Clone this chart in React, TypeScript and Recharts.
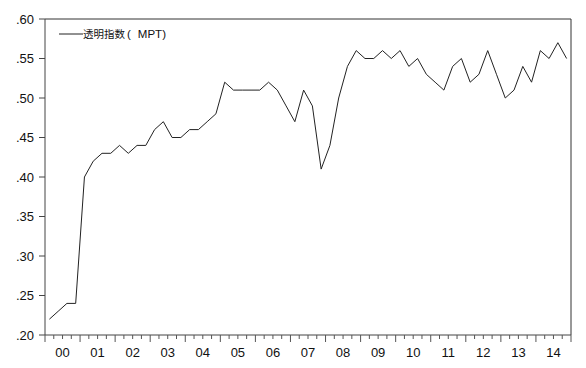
import React from "react";
import { LineChart, Line, XAxis, YAxis, Legend, ReferenceLine } from "recharts";

// quarterly values, 2000Q1 .. 2014Q4
const mptValues = [
  0.22, 0.23, 0.24, 0.24,
  0.40, 0.42, 0.43, 0.43,
  0.44, 0.43, 0.44, 0.44,
  0.46, 0.47, 0.45, 0.45,
  0.46, 0.46, 0.47, 0.48,
  0.52, 0.51, 0.51, 0.51,
  0.51, 0.52, 0.51, 0.49,
  0.47, 0.51, 0.49, 0.41,
  0.44, 0.50, 0.54, 0.56,
  0.55, 0.55, 0.56, 0.55,
  0.56, 0.54, 0.55, 0.53,
  0.52, 0.51, 0.54, 0.55,
  0.52, 0.53, 0.56, 0.53,
  0.50, 0.51, 0.54, 0.52,
  0.56, 0.55, 0.57, 0.55,
];
const yearLabels = ["00", "01", "02", "03", "04", "05", "06", "07", "08", "09", "10", "11", "12", "13", "14"];
const yTicks = [0.2, 0.25, 0.3, 0.35, 0.4, 0.45, 0.5, 0.55, 0.6];
const seriesName = "透明指数";
const seriesCode = "MPT";

const data = mptValues.map((v, i) => ({ t: i + 0.5, mpt: v }));
const quarterTicks = Array.from({ length: yearLabels.length * 4 + 1 }, (_, i) => i);

const FONT = "'Liberation Sans', Arial, 'Noto Sans CJK SC', sans-serif";

const QuarterTick = (props: any) => {
  const { x, y, payload } = props;
  const v = payload.value as number;
  const len = v % 4 === 0 ? 7 : 4;
  const yearIdx = (v - 2) / 4;
  return (
    <g>
      <line x1={x} y1={y} x2={x} y2={y + len} stroke="#555" strokeWidth={1} />
      {v % 4 === 2 && (
        <text x={x} y={y + 22} textAnchor="middle" fontSize={13} fill="#111" fontFamily={FONT}>
          {yearLabels[yearIdx]}
        </text>
      )}
    </g>
  );
};

const renderLegend = () => (
  <div style={{ display: "flex", alignItems: "center", fontFamily: FONT, fontSize: 11.5, color: "#111", whiteSpace: "nowrap" }}>
    <svg width={24} height={10}>
      <line x1={0} y1={5} x2={24} y2={5} stroke="#222" strokeWidth={1} />
    </svg>
    <span style={{ fontSize: 10.5 }}>{seriesName}</span>
    <span style={{ marginLeft: 2 }}>(</span>
    <span style={{ marginLeft: 7 }}>{seriesCode})</span>
  </div>
);

export default function App(): JSX.Element {
  return (
    <div style={{ position: "absolute", left: 0, top: 0, background: "#fff" }}>
      <LineChart
        width={586}
        height={368}
        data={data}
        margin={{ top: 19, right: 15, left: 0, bottom: 0 }}
      >
        <XAxis
          dataKey="t"
          type="number"
          domain={[0, 60]}
          ticks={quarterTicks}
          interval={0}
          height={33}
          tickSize={0}
          tickMargin={0}
          tickLine={false}
          tick={<QuarterTick />}
          stroke="#444"
        />
        <YAxis
          domain={[0.2, 0.6]}
          ticks={yTicks}
          interval={0}
          width={45}
          tickSize={6}
          tickMargin={5}
          tickFormatter={(v: number) => v.toFixed(2).replace(/^0/, "")}
          tick={{ fontSize: 13, fill: "#111", fontFamily: FONT }}
          stroke="#444"
        />
        <ReferenceLine y={0.6} stroke="#333" strokeWidth={1} />
        <ReferenceLine x={60} stroke="#333" strokeWidth={1} />
        <Legend
          layout="horizontal"
          verticalAlign="middle"
          align="center"
          content={renderLegend}
          wrapperStyle={{ left: 59, top: 26, width: "auto" }}
        />
        <Line
          type="linear"
          dataKey="mpt"
          name={`${seriesName}( ${seriesCode})`}
          stroke="#222"
          strokeWidth={1}
          dot={false}
          isAnimationActive={false}
        />
      </LineChart>
    </div>
  );
}
